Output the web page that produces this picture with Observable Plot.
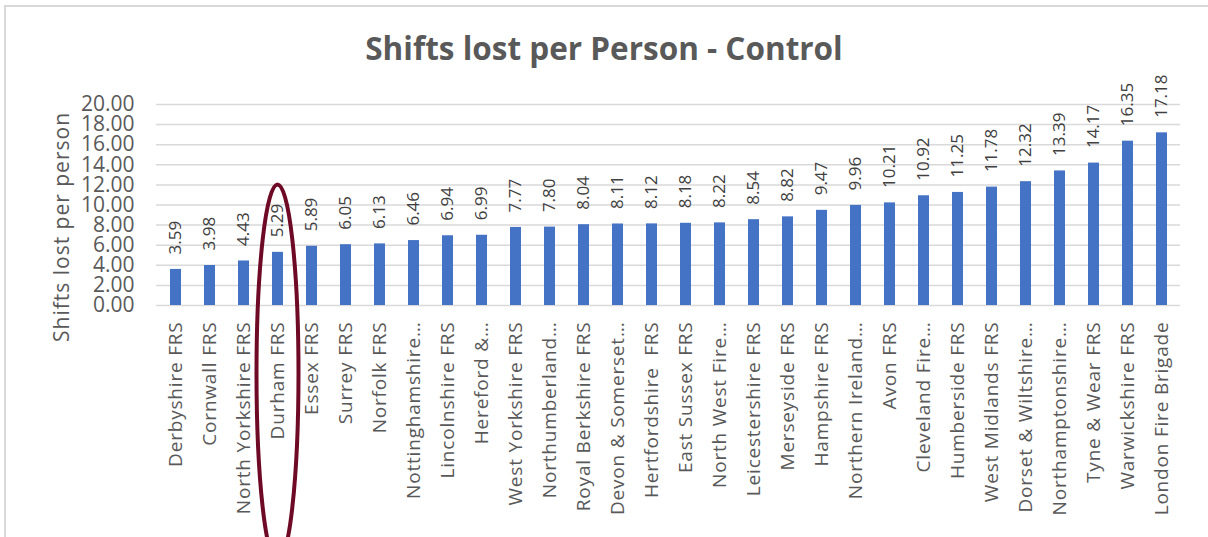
<!DOCTYPE html>
<html>
<head>
<meta charset="utf-8">
<script src="https://cdn.jsdelivr.net/npm/d3@7"></script>
<script src="https://cdn.jsdelivr.net/npm/@observablehq/plot@0.6"></script>
<style>
  html, body { margin: 0; padding: 0; background: #fff; }
  #wrap { position: relative; width: 1208px; height: 537px; overflow: hidden; font-family: "Open Sans", sans-serif; }
  #frame { position: absolute; left: 4px; top: 5px; width: 1300px; height: 700px; border-top: 2px solid #d9d9d9; border-left: 2px solid #d9d9d9; }
  #title { position: absolute; left: 0; top: 26px; width: 1208px; text-align: center; font-family: "Open Sans", sans-serif; font-weight: 700; font-size: 31.5px; line-height: 44px; color: #595959; }
  #chart { position: absolute; left: 0; top: 0; }
  #chart svg { overflow: visible; }
  .xax text { letter-spacing: 0.8px; }
  .ylab text { letter-spacing: 1px; }
</style>
</head>
<body>
<div id="wrap">
  <div id="frame"></div>
  <div id="title"></div>
  <div id="chart"></div>
</div>
<script>
const titleText = "Shifts lost per Person - Control";
const yLabel = "Shifts lost per person";
const categories = [
  "Derbyshire FRS", "Cornwall FRS", "North Yorkshire FRS", "Durham FRS", "Essex FRS",
  "Surrey FRS", "Norfolk FRS", "Nottinghamshire…", "Lincolnshire FRS", "Hereford &…",
  "West Yorkshire FRS", "Northumberland…", "Royal Berkshire FRS", "Devon & Somerset…", "Hertfordshire  FRS",
  "East Sussex FRS", "North West Fire…", "Leicestershire FRS", "Merseyside FRS", "Hampshire FRS",
  "Northern Ireland…", "Avon FRS", "Cleveland Fire…", "Humberside FRS", "West Midlands FRS",
  "Dorset & Wiltshire…", "Northamptonshire…", "Tyne & Wear FRS", "Warwickshire FRS", "London Fire Brigade"
];
const values = [
  3.59, 3.98, 4.43, 5.29, 5.89,
  6.05, 6.13, 6.46, 6.94, 6.99,
  7.77, 7.80, 8.04, 8.11, 8.12,
  8.18, 8.22, 8.54, 8.82, 9.47,
  9.96, 10.21, 10.92, 11.25, 11.78,
  12.32, 13.39, 14.17, 16.35, 17.18
];
const yTicks = [0, 2, 4, 6, 8, 10, 12, 14, 16, 18, 20];
const highlighted = "Durham FRS";
const highlightTop = 12;

const data = categories.map((c, i) => ({name: c, value: values[i]}));
document.getElementById("title").textContent = titleText;

const font = "Open Sans, sans-serif";
const plot = Plot.plot({
  width: 1208,
  height: 537,
  marginLeft: 156,
  marginRight: 28,
  marginTop: 104,
  marginBottom: 232,
  style: {fontFamily: font, background: "transparent", color: "#595959"},
  x: {domain: categories, paddingInner: 0.68, paddingOuter: 0.1, label: null},
  y: {domain: [0, 20], label: null},
  marks: [
    Plot.ruleY(yTicks, {stroke: "#d9d9d9", strokeWidth: 1.5}),
    Plot.barY(data, {x: "name", y: "value", fill: "#4472c4"}),
    Plot.text(data, {x: "name", y: "value", text: d => d.value.toFixed(2), rotate: -90, textAnchor: "start", dy: -15, fontSize: 17, fill: "#404040"}),
    Plot.axisY(yTicks, {tickFormat: d => d.toFixed(2), tickSize: 0, tickPadding: 22, fontSize: 21, fill: "#595959", label: null}),
    Plot.axisX({tickSize: 0, tickPadding: 16, tickRotate: -90, fontSize: 19, fill: "#595959", label: null, textAnchor: "end", className: "xax"}),
    Plot.text([yLabel], {frameAnchor: "left", textAnchor: "middle", lineAnchor: "middle", rotate: -90, dx: -94, dy: 22, fontSize: 21, fill: "#595959", className: "ylab"})
  ]
});
document.getElementById("chart").appendChild(plot);

// Annotation ellipse around the highlighted category, positioned with the plot's scales
const xs = plot.scale("x"), ys = plot.scale("y");
const cx = xs.apply(highlighted) + xs.bandwidth / 2;
const topY = ys.apply(highlightTop);
const ry = 189, rx = 21;
d3.select(plot).append("ellipse")
  .attr("cx", cx).attr("cy", topY + ry)
  .attr("rx", rx).attr("ry", ry)
  .attr("fill", "none").attr("stroke", "#6e0a26").attr("stroke-width", 4);
</script>
</body>
</html>
